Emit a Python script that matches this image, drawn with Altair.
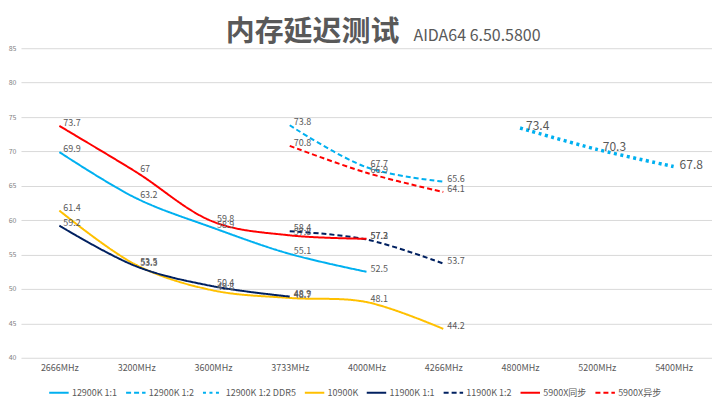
import altair as alt
import pandas as pd

categories = ["2666MHz", "3200MHz", "3600MHz", "3733MHz", "4000MHz",
              "4266MHz", "4800MHz", "5200MHz", "5400MHz"]

series_names = ["12900K 1:1", "12900K 1:2", "12900K 1:2 DDR5", "10900K",
                "11900K 1:1", "11900K 1:2", "5900X同步", "5900X异步"]

s_12900k_11 = {"2666MHz": 69.9, "3200MHz": 63.2, "3600MHz": 58.9, "3733MHz": 55.1, "4000MHz": 52.5}
s_12900k_12 = {"3733MHz": 73.8, "4000MHz": 67.7, "4266MHz": 65.6}
s_12900k_ddr5 = {"4800MHz": 73.4, "5200MHz": 70.3, "5400MHz": 67.8}
s_10900k = {"2666MHz": 61.4, "3200MHz": 53.5, "3600MHz": 49.8, "3733MHz": 48.7, "4000MHz": 48.1, "4266MHz": 44.2}
s_11900k_11 = {"2666MHz": 59.2, "3200MHz": 53.3, "3600MHz": 50.4, "3733MHz": 48.9}
s_11900k_12 = {"3733MHz": 58.4, "4000MHz": 57.2, "4266MHz": 53.7}
s_5900x_sync = {"2666MHz": 73.7, "3200MHz": 67, "3600MHz": 59.8, "3733MHz": 57.8, "4000MHz": 57.3}
s_5900x_async = {"3733MHz": 70.8, "4000MHz": 66.9, "4266MHz": 64.1}

all_series = [s_12900k_11, s_12900k_12, s_12900k_ddr5, s_10900k,
              s_11900k_11, s_11900k_12, s_5900x_sync, s_5900x_async]

title_main = "内存延迟测试"
title_sub = "AIDA64 6.50.5800"

colors = ["#00B0F0", "#00B0F0", "#00B0F0", "#FFC000",
          "#002060", "#002060", "#FF0000", "#FF0000"]
dashes = [[1, 0], [5, 3], [3, 3.5], [1, 0], [1, 0], [5, 3], [1, 0], [5, 3]]

rows = []
for name, s in zip(series_names, all_series):
    for cat in categories:
        if cat in s:
            rows.append({"series": name, "cat": cat, "value": s[cat]})
df = pd.DataFrame(rows)

FONT = "Noto Sans CJK SC"
GRAY = "#595959"

x_enc = alt.X("cat:N", sort=categories,
              scale=alt.Scale(type="point", padding=0.5),
              axis=alt.Axis(title=None, labelAngle=0, labelFontSize=9, labelColor=GRAY,
                            labelFont=FONT, ticks=False, domain=False, grid=False,
                            labelPadding=6))
y_enc = alt.Y("value:Q", scale=alt.Scale(domain=[40, 85], nice=False, zero=False),
              axis=alt.Axis(title=None, values=list(range(40, 90, 5)), labelFontSize=7,
                            labelColor="#7F7F7F", labelFont=FONT, ticks=False, domain=False,
                            grid=True, gridColor="#D9D9D9", gridWidth=1, labelPadding=5))

color_enc = alt.Color("series:N", sort=series_names,
                      scale=alt.Scale(domain=series_names, range=colors),
                      legend=alt.Legend(title=None, orient="none", legendX=27, legendY=334,
                                        direction="horizontal", columns=8,
                                        symbolType="stroke", symbolSize=380,
                                        symbolStrokeWidth=2, labelFontSize=9,
                                        labelColor=GRAY, labelFont=FONT,
                                        columnPadding=4, labelOffset=2))
dash_enc = alt.StrokeDash("series:N", sort=series_names,
                          scale=alt.Scale(domain=series_names, range=dashes),
                          legend=None)

base = alt.Chart(df)

lines = base.transform_filter(alt.datum.series != "12900K 1:2 DDR5").mark_line(
    strokeWidth=2, interpolate="catmull-rom"
).encode(x=x_enc, y=y_enc, color=color_enc, strokeDash=dash_enc, detail="series:N")

dotted = base.transform_filter(alt.datum.series == "12900K 1:2 DDR5").mark_line(
    strokeWidth=3.5, interpolate="catmull-rom"
).encode(x=x_enc, y=y_enc, color=color_enc, strokeDash=dash_enc, detail="series:N")

labels = base.transform_filter(alt.datum.series != "12900K 1:2 DDR5").mark_text(
    align="left", baseline="middle", dx=4, dy=-3, fontSize=9, color=GRAY, font=FONT
).encode(x=x_enc, y=y_enc, text=alt.Text("value:Q"))

labels_ddr5 = base.transform_filter(alt.datum.series == "12900K 1:2 DDR5").mark_text(
    align="left", baseline="middle", dx=6, dy=-2, fontSize=12, color=GRAY, font=FONT
).encode(x=x_enc, y=y_enc, text=alt.Text("value:Q"))

main_title = alt.Chart(pd.DataFrame({"t": [title_main]})).mark_text(
    align="left", baseline="alphabetic", fontSize=29, fontWeight="bold", color=GRAY, font=FONT
).encode(x=alt.value(205), y=alt.value(-7), text="t:N")

sub_title = alt.Chart(pd.DataFrame({"t": [title_sub]})).mark_text(
    align="left", baseline="alphabetic", fontSize=16, color=GRAY, font=FONT
).encode(x=alt.value(393), y=alt.value(-7), text="t:N")

chart = alt.layer(lines, dotted, labels, labels_ddr5, main_title, sub_title).properties(
    width=692, height=310,
    padding={"left": 0, "top": 10, "right": 0, "bottom": 0},
).configure_view(stroke=None)

chart.save("out.html", embed_options={"renderer": "svg", "actions": False})
